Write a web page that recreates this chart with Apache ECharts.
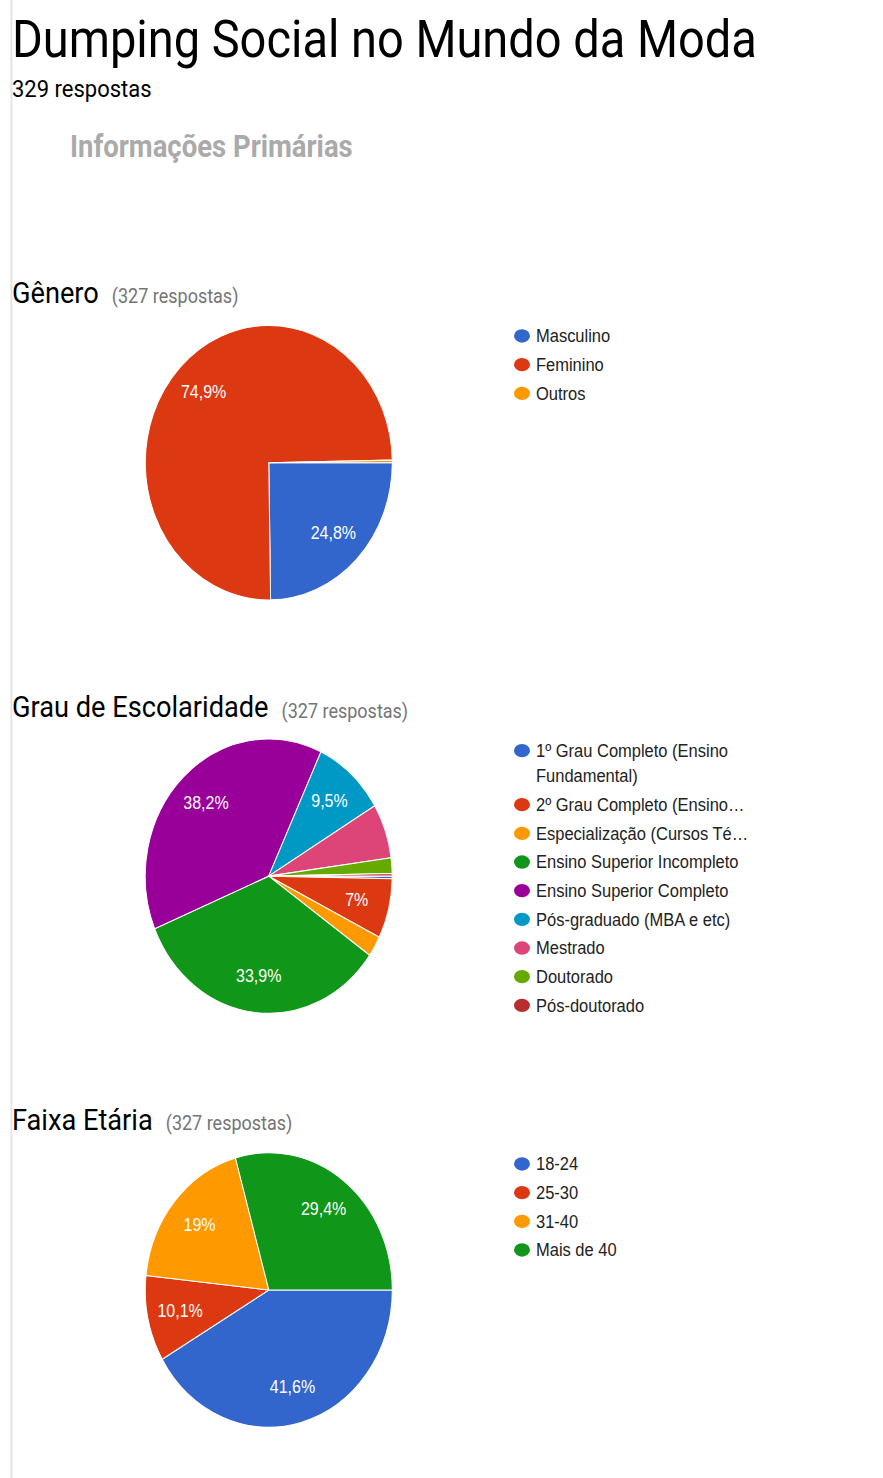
<!DOCTYPE html>
<html>
<head>
<meta charset="utf-8">
<script src="https://cdn.jsdelivr.net/npm/echarts@6/dist/echarts.min.js"></script>
<style>
  html, body { margin: 0; padding: 0; background: #fff; overflow: hidden; }
  #page { width: 883px; height: 1478px; overflow: hidden; }
  /* the survey summary is laid out in a shorter box and stretched vertically */
  #chart { width: 883px; height: 1331px; transform: scale(1, 1.111); transform-origin: 0 0; }
</style>
</head>
<body>
<div id="page"><div id="chart"></div></div>
<script>
// ---- survey data ----
const tituloFormulario = 'Dumping Social no Mundo da Moda';
const totalRespostas = 329;
const secao = 'Informações Primárias';

const generoTitulo = 'Gênero';
const generoCategorias = ['Masculino', 'Feminino', 'Outros'];
const generoRespostas = [81, 245, 1];

const escolaridadeTitulo = 'Grau de Escolaridade';
const escolaridadeCategorias = [
  '1º Grau Completo (Ensino Fundamental)',
  '2º Grau Completo (Ensino Médio)',
  'Especialização (Cursos Técnicos)',
  'Ensino Superior Incompleto',
  'Ensino Superior Completo',
  'Pós-graduado (MBA e etc)',
  'Mestrado',
  'Doutorado',
  'Pós-doutorado'
];
const escolaridadeRespostas = [1, 23, 8, 111, 125, 31, 21, 6, 1];

const faixaTitulo = 'Faixa Etária';
const faixaCategorias = ['18-24', '25-30', '31-40', 'Mais de 40'];
const faixaRespostas = [136, 33, 62, 96];

const paleta = ['#3366cc', '#dc3912', '#ff9900', '#109618', '#990099',
                '#0099c6', '#dd4477', '#66aa00', '#b82e2e'];

// ---- layout ----
const RAIO = 123.5;
const LIMIAR_ROTULO = 0.07;   // slices below this share carry no label
const ROBOTO = 'Roboto, "Noto Sans", sans-serif';
const ARIAL = '"Liberation Sans", Arial, sans-serif';
const TAM_LEGENDA = 16.5;
const ALTURA_LINHA = 22.8;
const LARGURA_LEGENDA = 215;
const ICONE = 'path://M0,5A5,5 0 1,1 10,5A5,5 0 1,1 0,5Z';

const soma = arr => arr.reduce((a, b) => a + b, 0);

function formatoPct(v, total) {
  return (v / total * 100).toFixed(1).replace(/\.0$/, '').replace('.', ',') + '%';
}

// shortens a legend entry to the column width, ending it with an ellipsis
const medidor = document.createElement('canvas').getContext('2d');
medidor.font = TAM_LEGENDA + 'px ' + ARIAL;
function cortar(texto) {
  if (medidor.measureText(texto).width <= LARGURA_LEGENDA) return texto;
  let s = texto;
  while (s.length && medidor.measureText(s.trimEnd() + '…').width > LARGURA_LEGENDA) {
    s = s.slice(0, -1);
  }
  return s.trimEnd() + '…';
}

function tituloPergunta(texto, respostas, top) {
  return {
    text: '{h|' + texto + '}{s|(' + respostas + ' respostas)}',
    left: 12, top: top, padding: 0,
    textStyle: {
      fontWeight: 'normal',
      rich: {
        h: { fontFamily: ROBOTO, fontSize: 27.2, fontWeight: 'normal', color: '#000',
             verticalAlign: 'bottom' },
        s: { fontFamily: ROBOTO, fontSize: 18, fontWeight: 'normal', color: '#757575',
             verticalAlign: 'bottom', padding: [0, 0, 1, 13] }
      }
    }
  };
}

function pizza(nomes, valores, centro) {
  const total = soma(valores);
  const principal = {
    type: 'pie',
    radius: RAIO,
    center: centro,
    startAngle: 0,
    clockwise: true,
    animation: false,
    emphasis: { disabled: true },
    itemStyle: { borderColor: '#fff', borderWidth: 1 },
    label: { show: false },
    labelLine: { show: false },
    data: nomes.map((n, i) => ({ name: n, value: valores[i], itemStyle: { color: paleta[i] } }))
  };
  // label ring: places the percentages at about 70% of the radius
  const rotulos = {
    type: 'pie',
    radius: [RAIO * 0.42, RAIO],
    center: centro,
    startAngle: 0,
    clockwise: true,
    animation: false,
    silent: true,
    itemStyle: { color: 'rgba(0,0,0,0)', borderWidth: 0 },
    label: {
      show: true,
      position: 'inside',
      color: '#fff',
      fontFamily: ARIAL,
      fontSize: 16,
      formatter: p => (p.value / total >= LIMIAR_ROTULO ? formatoPct(p.value, total) : '')
    },
    labelLine: { show: false },
    data: nomes.map((n, i) => ({ name: n, value: valores[i] }))
  };
  return [principal, rotulos];
}

function legenda(dados, top, formatador) {
  return {
    data: dados,
    orient: 'vertical',
    left: 512,
    top: top,
    padding: 0,
    itemWidth: 18,
    itemHeight: 14,
    itemGap: 3,
    icon: ICONE,
    symbolKeepAspect: false,
    selectedMode: false,
    formatter: formatador || cortar,
    textStyle: {
      fontFamily: ARIAL, fontSize: TAM_LEGENDA, color: '#222', lineHeight: ALTURA_LINHA
    }
  };
}

// the first schooling entry wraps onto two lines, its marker beside the first line
const escolaridadeQuebra = escolaridadeCategorias[0];
const escolaridadeLegenda = escolaridadeCategorias.map(n =>
  n === escolaridadeQuebra
    ? { name: n, textStyle: { width: LARGURA_LEGENDA, overflow: 'break' } }
    : n);
const formatoEscolaridade = n => (n === escolaridadeQuebra ? '\n' + n : cortar(n));

const option = {
  backgroundColor: '#fff',
  animation: false,
  title: [
    { text: tituloFormulario, left: 12, top: 11.7, padding: 0,
      textStyle: { fontFamily: ROBOTO, fontSize: 47, fontWeight: 'normal', color: '#000' } },
    { text: totalRespostas + ' respostas', left: 12, top: 68.5, padding: 0,
      textStyle: { fontFamily: ROBOTO, fontSize: 22, fontWeight: 'normal', color: '#000' } },
    { text: secao, left: 70, top: 118.1, padding: 0,
      textStyle: { fontFamily: ROBOTO, fontSize: 27.5, fontWeight: 'bold', color: '#aaaaaa' } },
    tituloPergunta(generoTitulo, soma(generoRespostas), 250.0),
    tituloPergunta(escolaridadeTitulo, soma(escolaridadeRespostas), 622.7),
    tituloPergunta(faixaTitulo, soma(faixaRespostas), 994.0)
  ],
  legend: [
    legenda(generoCategorias, 291.0),
    legenda(escolaridadeLegenda, 641.5, formatoEscolaridade),
    legenda(faixaCategorias, 1036.3)
  ],
  graphic: [
    { type: 'rect', silent: true, shape: { x: 10.5, y: 0, width: 1.8, height: 1331 },
      style: { fill: '#e2e2e2' } }
  ],
  series: [
    ...pizza(generoCategorias, generoRespostas, [268.8, 416.5]),
    ...pizza(escolaridadeCategorias, escolaridadeRespostas, [268.7, 788.6]),
    ...pizza(faixaCategorias, faixaRespostas, [268.8, 1161.1])
  ]
};

const chart = echarts.init(document.getElementById('chart'), null, { renderer: 'svg' });
chart.setOption(option);
</script>
</body>
</html>
